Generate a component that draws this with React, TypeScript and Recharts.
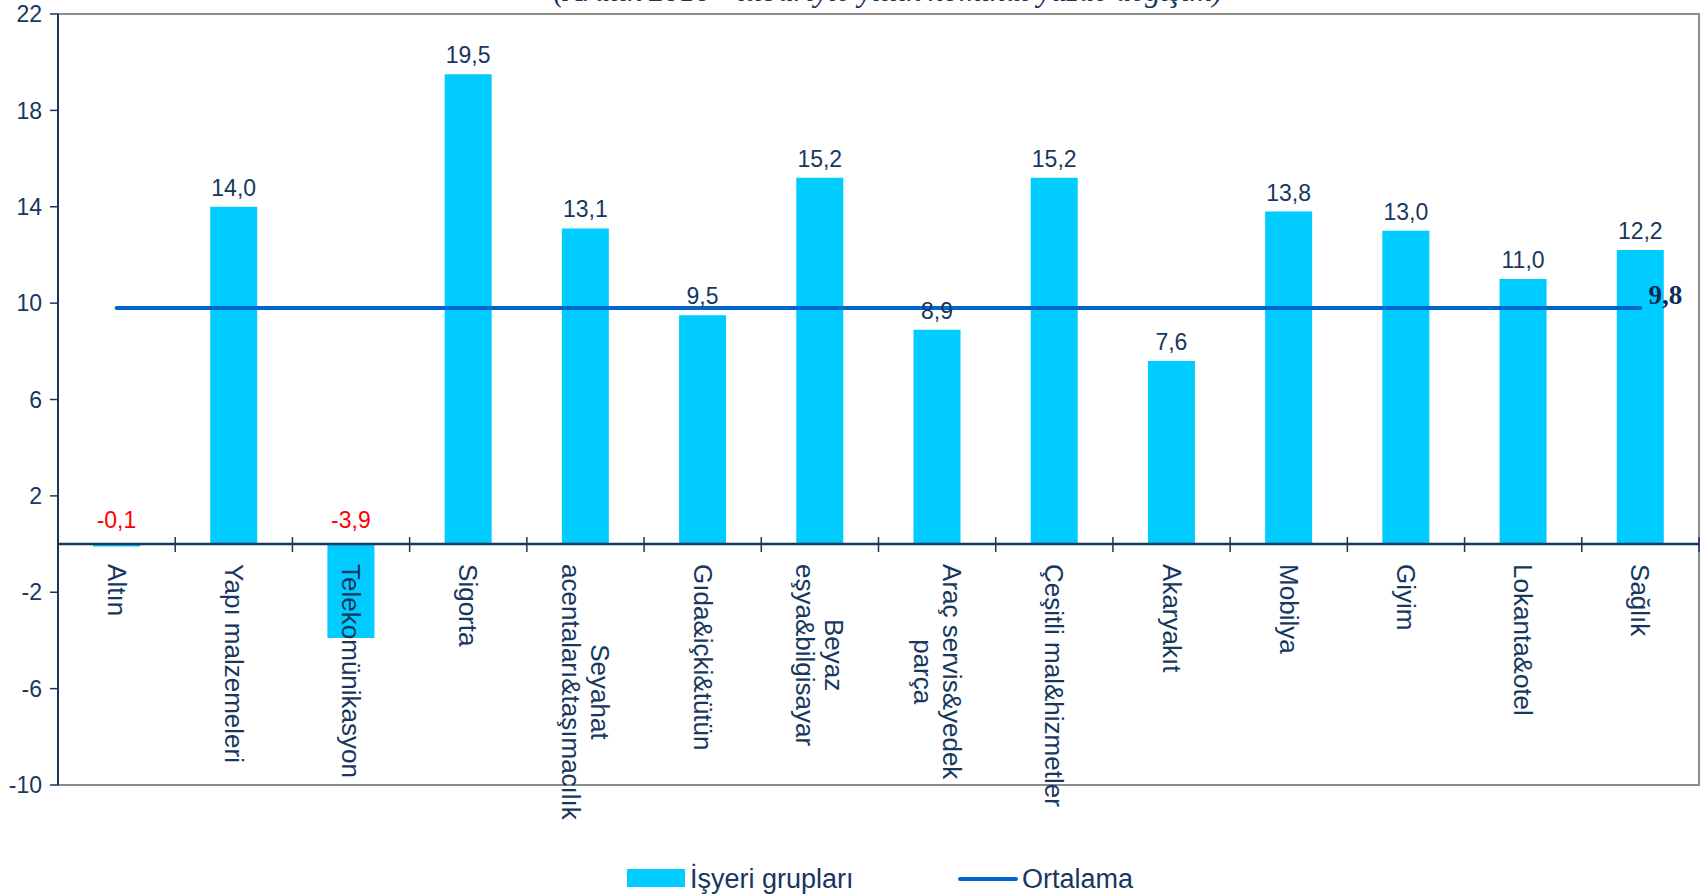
import React from "react";
import {
  ComposedChart, Bar, Line, XAxis, YAxis, ReferenceLine, ReferenceArea, LabelList, Legend
} from "recharts";

const CATEGORIES = [
  "Altın",
  "Yapı malzemeleri",
  "Telekomünikasyon",
  "Sigorta",
  "Seyahat\nacentaları&taşımacılık",
  "Gıda&içki&tütün",
  "Beyaz\neşya&bilgisayar",
  "Araç servis&yedek\nparça",
  "Çeşitli mal&hizmetler",
  "Akaryakıt",
  "Mobilya",
  "Giyim",
  "Lokanta&otel",
  "Sağlık",
];
const VALUES = [-0.1, 14.0, -3.9, 19.5, 13.1, 9.5, 15.2, 8.9, 15.2, 7.6, 13.8, 13.0, 11.0, 12.2];
const AVERAGE = 9.8;
const Y_TICKS = [22, 18, 14, 10, 6, 2, -2, -6, -10];
const Y_DOMAIN: [number, number] = [-10, 22];
const SERIES_BAR = "İşyeri grupları";
const SERIES_LINE = "Ortalama";
const TITLE = "(Aralık 2010 - itibariyle yıllık nominal yüzde değişim)";

const W = 1708;
const H = 896;
const NAVY = "#17375E";
const BAR_COLOR = "#00CCFF";
const LINE_COLOR = "#0066CC";
const FONT = '"Liberation Sans", Arial, sans-serif';

// layout
const TOP = 14;
const Y_AXIS_W = 58;
const RIGHT = 9;
const X_AXIS_H = 51;
const LEGEND_H = 60;
const PLOT_BOTTOM = H - LEGEND_H - X_AXIS_H;
const PLOT_LEFT = Y_AXIS_W;
const PLOT_RIGHT = W - RIGHT;
const BAND = (PLOT_RIGHT - PLOT_LEFT) / CATEGORIES.length;
const ZERO_Y = TOP + (Y_DOMAIN[1] / (Y_DOMAIN[1] - Y_DOMAIN[0])) * (PLOT_BOTTOM - TOP);
const CAT_FONT = 26;
const LINE_H = 29;

const data = CATEGORIES.map((name, i) => ({ name, value: VALUES[i], avg: AVERAGE }));

let ctx: CanvasRenderingContext2D | null = null;
function textWidth(s: string, size: number) {
  if (!ctx) ctx = document.createElement("canvas").getContext("2d");
  if (!ctx) return s.length * size * 0.5;
  ctx.font = `${size}px "Liberation Sans"`;
  return ctx.measureText(s).width;
}

const fmt = (v: number) => v.toFixed(1).replace(".", ",");

function CategoryTick(props: any) {
  const { x, payload } = props;
  const idx = CATEGORIES.indexOf(payload.value);
  const lines = String(payload.value).split("\n");
  const widths = lines.map((l) => textWidth(l, CAT_FONT));
  const maxW = Math.max(...widths);
  const n = lines.length;
  return (
    <g>
      {idx > 0 && (
        <line x1={x - BAND / 2} x2={x - BAND / 2} y1={ZERO_Y - 7} y2={ZERO_Y + 8} stroke={NAVY} strokeWidth={1.5} />
      )}
      {idx === CATEGORIES.length - 1 && (
        <line x1={x + BAND / 2} x2={x + BAND / 2} y1={ZERO_Y - 7} y2={ZERO_Y + 8} stroke={NAVY} strokeWidth={1.5} />
      )}
      <g transform={`translate(${x},${ZERO_Y + 20}) rotate(90)`}>
        {lines.map((l, i) => (
          <text
            key={i}
            x={(maxW - widths[i]) / 2}
            y={(i - (n - 1) / 2) * LINE_H}
            dominantBaseline="central"
            fontSize={CAT_FONT}
            fontFamily={FONT}
            fill={NAVY}
          >
            {l}
          </text>
        ))}
      </g>
    </g>
  );
}

function ValueLabel(props: any) {
  const { x, y, width, height, value } = props;
  const top = Math.min(y, y + height);
  const neg = value < 0;
  return (
    <text
      x={x + width / 2}
      y={top - (neg ? 16 : 11)}
      textAnchor="middle"
      fontSize={23}
      fontFamily={FONT}
      fill={neg ? "#FF0000" : NAVY}
    >
      {fmt(value)}
    </text>
  );
}

function AvgLabel(props: any) {
  const { x, y, index, value } = props;
  if (index !== CATEGORIES.length - 1) return null;
  return (
    <text
      x={x + 8}
      y={y - 4}
      fontSize={27}
      fontWeight="bold"
      fontFamily='"Liberation Serif", "Times New Roman", serif'
      fill="#0D2B57"
    >
      {fmt(value)}
    </text>
  );
}

function LegendBox() {
  const text: React.CSSProperties = {
    position: "absolute",
    top: 28,
    fontSize: 27,
    lineHeight: "30px",
    color: NAVY,
    fontFamily: FONT,
    whiteSpace: "nowrap",
  };
  return (
    <div style={{ position: "relative", width: W, height: LEGEND_H }}>
      <div style={{ position: "absolute", left: 627, top: 33, width: 58, height: 18, background: BAR_COLOR }} />
      <div style={{ ...text, left: 690 }}>{SERIES_BAR}</div>
      <div style={{ position: "absolute", left: 958, top: 41, width: 60, height: 4, borderRadius: 2, background: LINE_COLOR }} />
      <div style={{ ...text, left: 1022 }}>{SERIES_LINE}</div>
    </div>
  );
}

export default function App() {
  return (
    <div style={{ position: "absolute", left: 0, top: 0, width: W, height: H, background: "#fff", overflow: "hidden" }}>
      <div
        style={{
          position: "absolute",
          left: 0,
          width: W,
          top: -25,
          textAlign: "center",
          paddingLeft: 68,
          boxSizing: "border-box",
          fontFamily: '"Liberation Serif", serif',
          fontStyle: "italic",
          fontSize: 31,
          lineHeight: "31px",
          color: NAVY,
        }}
      >
        {TITLE}
      </div>
      <ComposedChart
        width={W}
        height={H}
        data={data}
        margin={{ top: TOP, right: RIGHT, bottom: 0, left: 0 }}
        barSize={47}
      >
        <ReferenceArea y1={-10} y2={22} fill="none" fillOpacity={0} stroke="#8C8C8C" strokeWidth={2} />
        <XAxis
          dataKey="name"
          type="category"
          interval={0}
          height={X_AXIS_H}
          axisLine={false}
          tickLine={false}
          tick={<CategoryTick />}
        />
        <YAxis
          domain={Y_DOMAIN}
          ticks={Y_TICKS}
          interval={0}
          width={Y_AXIS_W}
          allowDataOverflow
          axisLine={{ stroke: NAVY, strokeWidth: 2 }}
          tickLine={{ stroke: NAVY, strokeWidth: 1.5 }}
          tickSize={8}
          tickMargin={8}
          tick={{ fill: NAVY, fontSize: 23, fontFamily: FONT }}
        />
        <Bar dataKey="value" name={SERIES_BAR} fill={BAR_COLOR} isAnimationActive={false}>
          <LabelList dataKey="value" content={<ValueLabel />} />
        </Bar>
        <ReferenceLine y={0} stroke={NAVY} strokeWidth={2.5} />
        <Line
          dataKey="avg"
          name={SERIES_LINE}
          stroke={LINE_COLOR}
          strokeWidth={4}
          strokeLinecap="round"
          dot={false}
          activeDot={false}
          isAnimationActive={false}
          label={<AvgLabel />}
        />
        <Legend verticalAlign="bottom" height={LEGEND_H} content={() => <LegendBox />} />
      </ComposedChart>
    </div>
  );
}
